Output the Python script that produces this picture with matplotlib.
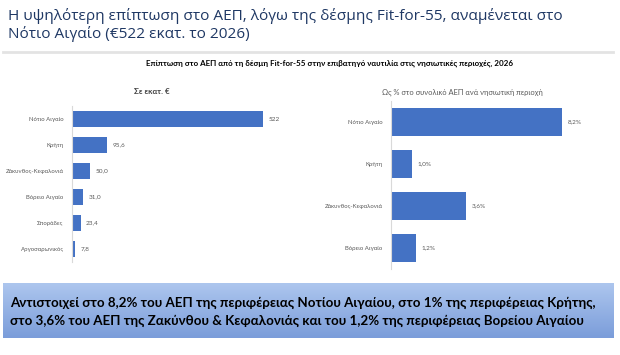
import matplotlib
matplotlib.use("Agg")
import matplotlib.pyplot as plt
import numpy as np

# data
regions_eur = ["Νότιο Αιγαίο", "Κρήτη", "Ζάκυνθος-Κεφαλονιά", "Βόρειο Αιγαίο",
               "Σποράδες", "Αργοσαρωνικός"]
values_eur = [522, 95.6, 50.0, 31.0, 23.4, 7.8]

regions_pct = ["Νότιο Αιγαίο", "Κρήτη", "Ζάκυνθος-Κεφαλονιά", "Βόρειο Αιγαίο"]
values_pct = [8.2, 1.0, 3.6, 1.2]

title_lines = ["Η υψηλότερη επίπτωση στο ΑΕΠ, λόγω της δέσμης Fit-for-55, αναμένεται στο",
               "Νότιο Αιγαίο (€522 εκατ. το 2026)"]
chart_title = ("Επίπτωση στο ΑΕΠ από τη δέσμη Fit-for-55 στην επιβατηγό ναυτιλία "
               "στις νησιωτικές περιοχές, 2026")
sub_left = "Σε εκατ. €"
sub_right = "Ως % στο συνολικό ΑΕΠ ανά νησιωτική περιοχή"
box_lines = ["Αντιστοιχεί στο 8,2% του ΑΕΠ της περιφέρειας Νοτίου Αιγαίου, στο 1% της περιφέρειας Κρήτης,",
             "στο 3,6% του ΑΕΠ της Ζακύνθου & Κεφαλονιάς και του 1,2% της περιφέρειας Βορείου Αιγαίου"]

W, H = 620, 355
BAR = "#4472C4"
GREY = "#595959"

fig = plt.figure(figsize=(6.2, 3.55), dpi=100)


def px_axes(x0, y0, x1, y1):
    # pixel box (top-left origin) -> figure fraction
    return fig.add_axes([x0 / W, 1 - y1 / H, (x1 - x0) / W, (y1 - y0) / H])


# overlay for title, rule and the text box
over = px_axes(0, 0, W, H)
over.set_xlim(0, W)
over.set_ylim(H, 0)
over.axis("off")

for ty, line in zip([16, 34], title_lines):
    over.text(8, ty, line, fontsize=11.1, color="#1F3864", family="Open Sans",
              va="center", ha="left")
over.plot([3, 613], [52, 52], color="#e3e3e3", lw=2)
over.text(330, 63, chart_title, fontsize=5.8, fontweight="bold", family="Lato",
          ha="center", va="center", color="black")

grad = np.linspace(0, 1, 100).reshape(-1, 1)
cmap = matplotlib.colors.LinearSegmentedColormap.from_list("g", ["#adc6ee", "#7b9dda"])
over.imshow(grad, extent=[3, 614, 338, 283], cmap=cmap, aspect="auto", zorder=1)
for ty, line in zip([303, 320.5], box_lines):
    over.text(10, ty, line, fontsize=9.65, fontweight="bold", family="Lato",
              va="center", ha="left", color="black", zorder=2)


def bar_panel(ax, cats, vals, xmax, fmt, sub, sub_bold, subx, suby, subsize):
    y = np.arange(len(cats))
    ax.barh(y, vals, height=0.65, color=BAR)
    ax.set_ylim(len(cats) - 0.5, -0.5)
    ax.set_xlim(0, xmax)
    ax.set_yticks(y)
    ax.set_yticklabels(cats, fontsize=4.3, color=GREY, family="Lato")
    ax.tick_params(axis="y", length=0, pad=6)
    ax.set_xticks([])
    for s in ["top", "right", "bottom"]:
        ax.spines[s].set_visible(False)
    ax.spines["left"].set_color("#d9d9d9")
    ax.spines["left"].set_linewidth(0.8)
    for yi, v in zip(y, vals):
        ax.annotate(fmt(v), (v, yi), xytext=(4, 0), textcoords="offset points",
                    va="center", ha="left", fontsize=4.6, color=GREY, family="Lato")
    over.text(subx, suby, sub, fontsize=subsize, fontweight="bold" if sub_bold else "normal",
              color=GREY if not sub_bold else "#404040", family="Lato",
              ha="center", va="center")


ax1 = px_axes(72, 106, 72 + 191 * 600 / 522, 262)
bar_panel(ax1, regions_eur, values_eur, 600,
          lambda v: "522" if v >= 100 else f"{v:.1f}".replace(".", ","),
          sub_left, True, 152, 91, 5.8)

ax2 = px_axes(391, 101, 391 + 171 * 10 / 8.2, 269)
bar_panel(ax2, regions_pct, values_pct, 10,
          lambda v: f"{v:.1f}%".replace(".", ","),
          sub_right, False, 462, 92, 5.4)

fig.savefig("out.png", dpi=100)
